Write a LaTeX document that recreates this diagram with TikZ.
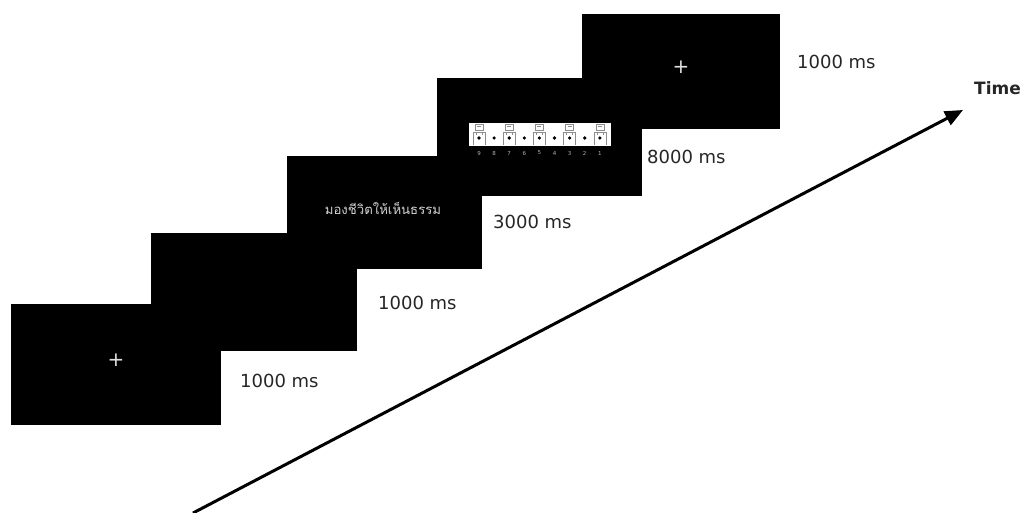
\documentclass[tikz,border=0pt]{standalone}
\usepackage{fontspec}
\setmainfont{DejaVu Sans}
\newfontfamily\thaifont[Script=Thai]{Loma}
\usetikzlibrary{arrows.meta}
\begin{document}
\begin{tikzpicture}[x=1pt,y=-1pt,
  screen/.style={fill=black, draw=none, inner sep=0, outer sep=0, anchor=north west},
  dur/.style={anchor=west, font=\fontsize{18}{20}\selectfont, text=black!85, inner sep=0},
  fix/.style={text=white!88!black, font=\fontsize{20}{20}\selectfont, inner sep=0},
  scalenum/.style={text=white!70!black, font=\fontsize{5.5}{6}\selectfont, inner sep=0},
  manikin/.style={draw=black!45, line width=0.5pt},
]
\useasboundingbox (0,0) rectangle (1024,513);

% trial screens, earliest at the bottom left
\node[screen, minimum width=210, minimum height=121] (s1) at (11,304) {};
\node[screen, minimum width=206, minimum height=118] (s2) at (151,233) {};
\node[screen, minimum width=195, minimum height=113] (s3) at (287,156) {};
\node[screen, minimum width=205, minimum height=118] (s4) at (437,78) {};
\node[screen, minimum width=198, minimum height=115] (s5) at (582,14) {};

% screen contents
\node[fix] (f1) at (116,360) {+};
\node[fix] (f5) at (681,67) {+};
\node[text=white!82!black, font=\thaifont\fontsize{13.2}{15}\selectfont, inner sep=0] (cue) at (383,208) {มองชีวิตให้เห็นธรรม};

% rating scale with nine points
\node[fill=white, draw=none, minimum width=142, minimum height=23, inner sep=0, anchor=north west] (rate) at (469,123) {};
\foreach \i in {0,...,8}{
  \pgfmathsetmacro{\px}{479+15.1*\i}
  \fill[black] (\px,138) circle (1.8);
  \pgfmathtruncatemacro{\lab}{9-\i}
  \node[scalenum] (n\i) at (\px,153) {\lab};
}
\foreach \i in {0,2,4,6,8}{
  \pgfmathsetmacro{\px}{479+15.1*\i}
  \draw[manikin] (\px-4,124) rectangle (\px+4,130);
  \draw[manikin] (\px-2,126.5) -- (\px+2,126.5);
  \draw[manikin] (\px-6,145) -- (\px-6,132) -- (\px+6,132) -- (\px+6,145);
  \draw[manikin] (\px-3,132) -- (\px-3,135) (\px+3,132) -- (\px+3,135);
}

% durations
\node[dur] (d1) at (240,381) {1000 ms};
\node[dur] (d2) at (378,303) {1000 ms};
\node[dur] (d3) at (493,222) {3000 ms};
\node[dur] (d4) at (647,157) {8000 ms};
\node[dur] (d5) at (797,62) {1000 ms};

% time axis
\coordinate (tstart) at (193,513);
\coordinate (ttip) at (963,110);
\draw[line width=3pt, -{Triangle[length=18pt,width=15pt]}] (tstart) -- (ttip);
\node[anchor=west, inner sep=0, font=\bfseries\fontsize{17}{18}\selectfont, text=black!85] (tlabel) at (974,88) {Time};
\end{tikzpicture}
\end{document}
